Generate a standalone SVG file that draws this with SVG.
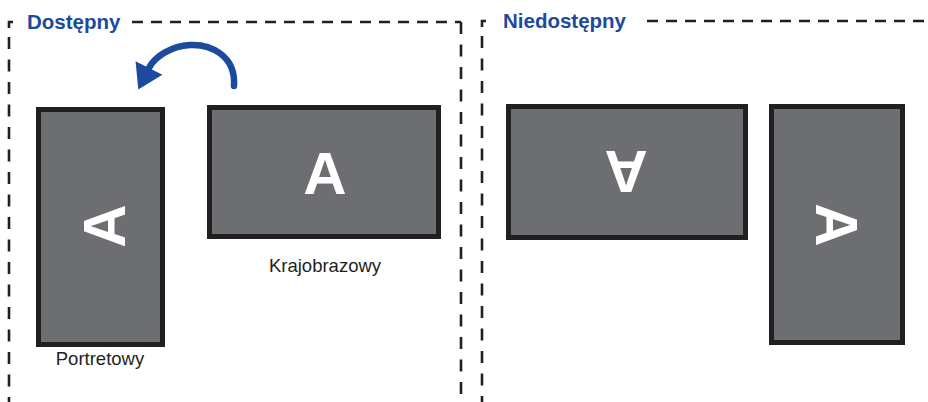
<svg xmlns="http://www.w3.org/2000/svg" width="928" height="402" viewBox="0 0 928 402">
<style>
.frame{fill:none;stroke:#231f20;stroke-width:2.6}
.h{stroke-dasharray:11 8}
.v{stroke-dasharray:12 10.5}
.title{font-family:"Liberation Sans",Arial,sans-serif;font-weight:bold;font-size:20.5px;fill:#1b4a9e}
.mon{fill:#6d6e71;stroke:#231f20;stroke-width:5}
.big{font-family:"Liberation Sans",Arial,sans-serif;font-weight:bold;font-size:60px;fill:#ffffff;text-anchor:middle}
.lbl{font-family:"Liberation Sans",Arial,sans-serif;font-size:18.5px;fill:#231f20;text-anchor:middle}
</style>
<defs>
<marker id="ah" markerUnits="userSpaceOnUse" markerWidth="40" markerHeight="40" refX="0" refY="0" orient="auto" overflow="visible">
<path d="M 24 0 L 0 -15 L 0 15 Z" fill="#1b4a9e"/>
</marker>
</defs>
<g id="frame-dostepny">
<path class="frame" d="M9 28 V22 H13"/>
<line class="frame h" x1="132" y1="22" x2="461" y2="22"/>
<line class="frame v" x1="9" y1="37" x2="9" y2="402"/>
<line class="frame v" x1="461" y1="22" x2="461" y2="402"/>
<text class="title" x="27" y="29">Dostępny</text>
</g>
<g id="frame-niedostepny">
<path class="frame" d="M482 27 V21 H486"/>
<line class="frame h" x1="647" y1="21" x2="928" y2="21"/>
<line class="frame v" x1="482" y1="36" x2="482" y2="402"/>
<text class="title" x="503" y="28">Niedostępny</text>
</g>
<g id="portrait">
<rect class="mon" x="38.5" y="109.5" width="124" height="235"/>
<text class="big" transform="translate(103.5 226) rotate(-90)" x="0" y="21.5">A</text>
<text class="lbl" x="100" y="365">Portretowy</text>
</g>
<g id="landscape">
<rect class="mon" x="209.5" y="107.5" width="229" height="129"/>
<text class="big" x="325" y="193.5">A</text>
<text class="lbl" x="325" y="272">Krajobrazowy</text>
</g>
<g id="landscape-flipped">
<rect class="mon" x="508.5" y="106.5" width="237" height="131"/>
<text class="big" transform="translate(626 172) rotate(180)" x="0" y="21.5">A</text>
</g>
<g id="portrait-flipped">
<rect class="mon" x="771.5" y="106.5" width="131" height="236"/>
<text class="big" transform="translate(837 225) rotate(90)" x="0" y="21.5">A</text>
</g>
<g id="connectors">
<path d="M 234 86 C 236 55 210 44 190 45 C 172 46 155 56 149 68" fill="none" stroke="#1b4a9e" stroke-width="6.5" stroke-linecap="round" marker-end="url(#ah)"/>
</g>
</svg>
